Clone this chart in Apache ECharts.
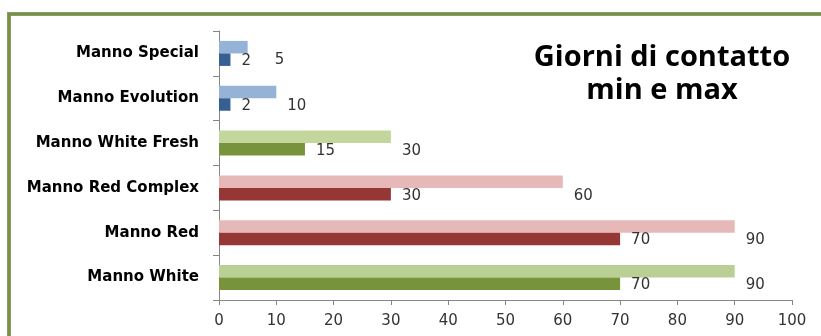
<!DOCTYPE html>
<html>
<head>
<meta charset="utf-8">
<script src="https://cdn.jsdelivr.net/npm/echarts@6/dist/echarts.min.js"></script>
<style>
  html, body { margin: 0; padding: 0; background: #fff; }
  #main { width: 821px; height: 336px; }
</style>
</head>
<body>
<div id="main"></div>
<script>
// categories from bottom to top
const categories = ['Manno White', 'Manno Red', 'Manno Red Complex', 'Manno White Fresh', 'Manno Evolution', 'Manno Special'];
const minDays = [70, 70, 30, 15, 2, 2];
const maxDays = [90, 90, 60, 30, 10, 5];
const xTicks = [0, 10, 20, 30, 40, 50, 60, 70, 80, 90, 100];

const darkColors = ['#77933C', '#953735', '#953735', '#77933C', '#376092', '#376092'];
const lightColors = ['#B9CF93', '#E6B9B8', '#E6B9B8', '#C3D69B', '#95B3D7', '#95B3D7'];

const myChart = echarts.init(document.getElementById('main'));

const labelStyle = {
    show: true,
    position: 'right',
    distance: 11,
    color: '#333',
    fontFamily: 'DejaVu Sans',
    fontSize: 15
};

let option = {
    animation: false,
    title: {
        text: 'Giorni di contatto\nmin e max',
        left: 657,
        top: 36,
        textAlign: 'center',
        textStyle: {
            fontFamily: 'Open Sans',
            fontWeight: 'bold',
            fontSize: 29,
            lineHeight: 33,
            color: '#000'
        }
    },
    graphic: [
        { type: 'rect', shape: { x: 9, y: 14, width: 900, height: 400 },
          style: { fill: 'none', stroke: '#A0A0A0', lineWidth: 4 }, z: 0 },
        { type: 'rect', shape: { x: 9, y: 14, width: 900, height: 400 },
          style: { fill: 'none', stroke: '#77933C', lineWidth: 3 }, z: 1 }
    ],
    grid: { left: 219, right: 29, top: 31, bottom: 36 },
    xAxis: {
        type: 'value',
        min: 0,
        max: 100,
        interval: 10,
        splitLine: { show: false },
        axisLine: { show: true, lineStyle: { color: '#868686' } },
        axisTick: { show: true, length: 5, lineStyle: { color: '#868686' } },
        axisLabel: {
            margin: 14,
            color: '#333',
            fontFamily: 'DejaVu Sans',
            fontSize: 15,
            formatter: function (v) { return xTicks.indexOf(v) >= 0 ? String(v) : ''; }
        }
    },
    yAxis: {
        type: 'category',
        data: categories,
        axisLine: { show: true, lineStyle: { color: '#868686' } },
        axisTick: { show: true, length: 6, lineStyle: { color: '#868686' } },
        axisLabel: {
            margin: 20,
            color: '#000',
            fontFamily: 'DejaVu Sans',
            fontWeight: 'bold',
            fontSize: 15
        }
    },
    series: [
        {
            name: 'max',
            type: 'bar',
            barWidth: 12.5,
            barGap: '0%',
            // the "5" label is pushed right in the original to clear the "2"
            data: maxDays.map(function (v, i) {
                return i === 5 ? { value: v, label: { offset: [16, 13] } } : v;
            }),
            itemStyle: { color: function (p) { return lightColors[p.dataIndex]; } },
            label: Object.assign({}, labelStyle, { offset: [0, 14] })
        },
        {
            name: 'min',
            type: 'bar',
            barWidth: 12.5,
            barGap: '0%',
            data: minDays,
            itemStyle: { color: function (p) { return darkColors[p.dataIndex]; } },
            label: Object.assign({}, labelStyle, { offset: [0, 1.5] })
        }
    ]
};

myChart.setOption(option);
</script>
</body>
</html>
